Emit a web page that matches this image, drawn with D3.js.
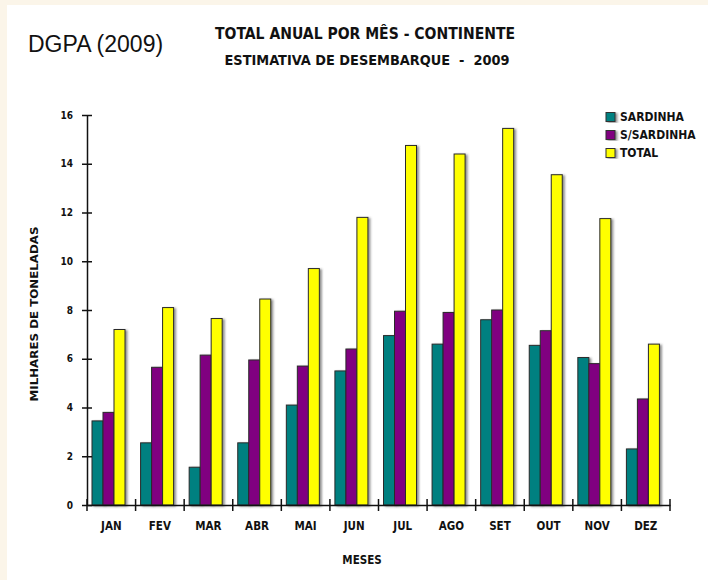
<!DOCTYPE html>
<html>
<head>
    <meta charset="utf-8">
    <title>Total anual por mês - Continente</title>
    <script src="https://d3js.org/d3.v7.min.js"></script>
    <style>
        body { margin: 0; background: #fff; }
        text { font-family: "Liberation Sans", Arial, sans-serif; fill: #111; }
        .bold { font-family: "DejaVu Sans Condensed", "DejaVu Sans", sans-serif; font-weight: bold; font-stretch: condensed; }
        .axis path, .axis line { stroke: #111; stroke-width: 1.5px; }
        .axis text { font-family: "DejaVu Sans Condensed", "DejaVu Sans", sans-serif; font-weight: bold; font-stretch: condensed; font-size: 10px; }
        .bar { stroke: #2a2a2a; stroke-width: 1px; }
    </style>
</head>
<body>
    <svg width="708" height="580"></svg>
    <script>
        // values (thousands of tonnes)
        const months = ["JAN", "FEV", "MAR", "ABR", "MAI", "JUN", "JUL", "AGO", "SET", "OUT", "NOV", "DEZ"];
        const sardinha = [3.45, 2.55, 1.55, 2.55, 4.1, 5.5, 6.95, 6.6, 7.6, 6.55, 6.05, 2.3];
        const semSardinha = [3.8, 5.65, 6.15, 5.95, 5.7, 6.4, 7.95, 7.9, 8.0, 7.15, 5.8, 4.35];
        const total = [7.2, 8.1, 7.65, 8.45, 9.7, 11.8, 14.75, 14.4, 15.45, 13.55, 11.75, 6.6];
        const seriesNames = ["SARDINHA", "S/SARDINHA", "TOTAL"];
        const seriesColors = ["#008080", "#800080", "#ffff00"];
        const yTicks = [0, 2, 4, 6, 8, 10, 12, 14, 16];

        const seriesValues = [sardinha, semSardinha, total];
        const rows = months.map((m, i) => ({month: m, values: seriesValues.map(s => s[i])}));

        const svg = d3.select("svg");

        // cream frame + white panel
        svg.append("rect").attr("width", 708).attr("height", 580).attr("fill", "#fbf5e9");
        svg.append("rect").attr("x", 7).attr("y", 5).attr("width", 701).attr("height", 575).attr("fill", "#fff");

        const defs = svg.append("defs");
        defs.append("filter").attr("id", "shadow")
            .attr("x", "-30%").attr("y", "-5%").attr("width", "180%").attr("height", "115%")
            .append("feDropShadow")
            .attr("dx", 2).attr("dy", 1).attr("stdDeviation", 0.8)
            .attr("flood-color", "#444").attr("flood-opacity", 0.6);

        const x0 = d3.scaleBand().domain(months).range([87, 670]).padding(0);
        const x1 = d3.scaleBand().domain(seriesNames).range([5, 38]).padding(0);
        const y = d3.scaleLinear().domain([0, 16]).range([505, 115]);
        const color = d3.scaleOrdinal().domain(seriesNames).range(seriesColors);

        // titles
        svg.append("text").attr("x", 28).attr("y", 52)
            .style("font-size", "23px").text("DGPA (2009)");
        svg.append("text").attr("class", "bold")
            .attr("x", 365).attr("y", 39).attr("text-anchor", "middle")
            .attr("textLength", 300).attr("lengthAdjust", "spacingAndGlyphs")
            .style("font-size", "16px").text("TOTAL ANUAL POR MÊS - CONTINENTE");
        svg.append("text").attr("class", "bold")
            .attr("x", 367).attr("y", 65).attr("text-anchor", "middle")
            .attr("textLength", 285).attr("lengthAdjust", "spacingAndGlyphs")
            .style("font-size", "13.5px").style("white-space", "pre")
            .text("ESTIMATIVA DE DESEMBARQUE  -  2009");

        // bars
        const groups = svg.append("g").selectAll("g")
            .data(rows).join("g")
            .attr("transform", d => `translate(${x0(d.month)},0)`);

        groups.selectAll("rect")
            .data(d => d.values.map((v, k) => ({key: seriesNames[k], value: v})))
            .join("rect")
            .attr("class", "bar")
            .attr("filter", "url(#shadow)")
            .attr("x", d => x1(d.key))
            .attr("y", d => y(d.value))
            .attr("width", x1.bandwidth())
            .attr("height", d => y(0) - y(d.value))
            .attr("fill", d => color(d.key));

        // y axis
        const yAxis = svg.append("g").attr("class", "axis")
            .attr("transform", "translate(87,0)")
            .call(d3.axisLeft(y).tickValues(yTicks).tickFormat(d3.format("d"))
                .tickSize(5).tickPadding(9).tickSizeOuter(0));
        yAxis.selectAll(".tick line").attr("x1", -5).attr("x2", 5);

        // x axis: labels at band centres, ticks at band edges
        const xAxis = svg.append("g").attr("class", "axis")
            .attr("transform", "translate(0,505)")
            .call(d3.axisBottom(x0).tickSize(0).tickPadding(17));
        xAxis.selectAll("text").style("font-size", "11.5px");

        const edges = months.map(m => x0(m) + x0.bandwidth());
        edges.unshift(x0(months[0]));
        xAxis.selectAll(".edge").data(edges).join("line")
            .attr("class", "edge")
            .attr("x1", d => d).attr("x2", d => d)
            .attr("y1", -6).attr("y2", 6);

        // axis titles
        svg.append("text").attr("class", "bold")
            .attr("transform", "translate(38,314) rotate(-90)")
            .attr("text-anchor", "middle")
            .attr("textLength", 175).attr("lengthAdjust", "spacingAndGlyphs")
            .style("font-size", "10.5px").text("MILHARES DE TONELADAS");
        svg.append("text").attr("class", "bold")
            .attr("x", 362).attr("y", 564).attr("text-anchor", "middle")
            .style("font-size", "11.5px").text("MESES");

        // legend
        const legend = svg.append("g").attr("transform", "translate(606,117)")
            .selectAll("g").data(seriesNames).join("g")
            .attr("transform", (d, i) => `translate(0,${i * 18})`);
        legend.append("rect")
            .attr("x", 0).attr("y", -4.5).attr("width", 9).attr("height", 9)
            .attr("fill", d => color(d)).attr("stroke", "#333").attr("stroke-width", 1)
            .attr("filter", "url(#shadow)");
        legend.append("text").attr("class", "bold")
            .attr("x", 14).attr("dy", "0.36em")
            .style("font-size", "12px").text(d => d);
    </script>
</body>
</html>
